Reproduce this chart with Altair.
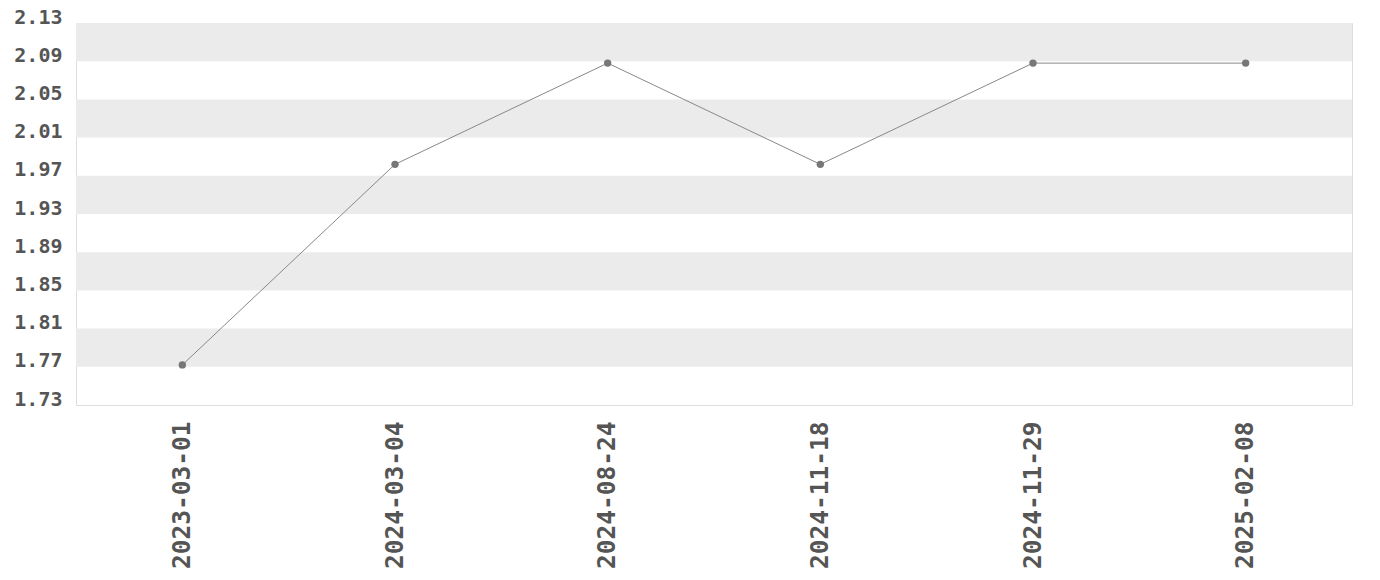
import altair as alt
import pandas as pd

dates = ["2023-03-01", "2024-03-04", "2024-08-24", "2024-11-18", "2024-11-29", "2025-02-08"]
values = [1.772, 1.982, 2.088, 1.982, 2.088, 2.088]
y_ticks = [1.73, 1.77, 1.81, 1.85, 1.89, 1.93, 1.97, 2.01, 2.05, 2.09, 2.13]

df = pd.DataFrame({"date": dates, "value": values})
bands = pd.DataFrame({
    "lo": [y_ticks[i] for i in range(1, len(y_ticks) - 1, 2)],
    "hi": [y_ticks[i + 1] for i in range(1, len(y_ticks) - 1, 2)],
})

FONT = "DejaVu Sans Mono"
LABEL = "#555555"

yscale = alt.Scale(domain=[y_ticks[0], y_ticks[-1]], nice=False, zero=False)
xscale = alt.Scale(domain=dates, type="point", padding=0.5)

yaxis = alt.Axis(
    values=y_ticks, format=".2f", title=None, grid=False, ticks=False, domain=False,
    labelFont=FONT, labelFontWeight="bold", labelFontSize=20, labelColor=LABEL,
    labelPadding=14, labelBaseline="alphabetic",
)
xaxis = alt.Axis(
    title=None, grid=False, ticks=False, domain=False, labelAngle=-90,
    labelFont=FONT, labelFontWeight="bold", labelFontSize=24.5, labelColor=LABEL,
    labelPadding=16,
)

band_layer = alt.Chart(bands).mark_rect(color="#ebebeb").encode(
    y=alt.Y("lo:Q", scale=yscale, axis=yaxis),
    y2="hi:Q",
)

line = alt.Chart(df).mark_line(color="#888888", strokeWidth=1).encode(
    x=alt.X("date:O", scale=xscale, axis=xaxis, sort=dates),
    y=alt.Y("value:Q", scale=yscale, axis=yaxis),
)
points = alt.Chart(df).mark_circle(size=55, color="#777777", opacity=1).encode(
    x=alt.X("date:O", scale=xscale, axis=xaxis, sort=dates),
    y=alt.Y("value:Q", scale=yscale, axis=yaxis),
)

chart = alt.layer(band_layer, line, points).properties(
    width=1276, height=382,
    autosize=alt.AutoSizeParams(type="none"),
    padding={"left": 68, "top": 15, "right": 20, "bottom": 165},
).configure_view(stroke="#dddddd", strokeWidth=1)

chart.save("out.html", embed_options={"renderer": "svg", "actions": False})
